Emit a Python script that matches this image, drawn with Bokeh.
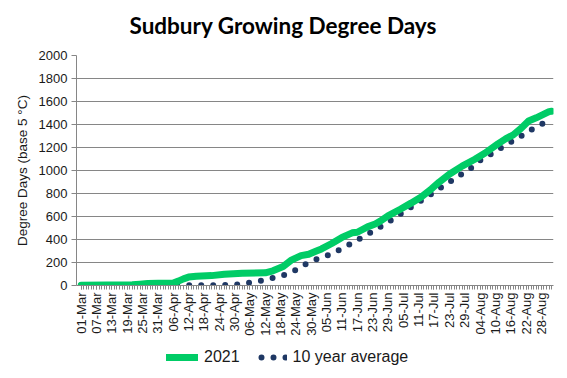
import pandas as pd
from math import pi
from bokeh.plotting import figure
from bokeh.layouts import column
from bokeh.models import Range1d, FixedTicker, Legend, LegendItem, Label
from bokeh.embed import file_html
from bokeh.resources import INLINE

# ---- data ----
dates_2021 = ["2021-03-01", "2021-03-11", "2021-03-21", "2021-03-24", "2021-03-27", "2021-03-31",
              "2021-04-06", "2021-04-08", "2021-04-10", "2021-04-12", "2021-04-15", "2021-04-21",
              "2021-04-26", "2021-05-03", "2021-05-12", "2021-05-15", "2021-05-19", "2021-05-22",
              "2021-05-26", "2021-05-29", "2021-06-01", "2021-06-03", "2021-06-07", "2021-06-11",
              "2021-06-15", "2021-06-17", "2021-06-21", "2021-06-24", "2021-06-26", "2021-06-29",
              "2021-07-04", "2021-07-08", "2021-07-12", "2021-07-16", "2021-07-19", "2021-07-23",
              "2021-07-28", "2021-08-02", "2021-08-06", "2021-08-11", "2021-08-14", "2021-08-17",
              "2021-08-20", "2021-08-23", "2021-08-26", "2021-08-29", "2021-08-31", "2021-09-01"]
gdd_2021 = [3, 4, 6, 12, 17, 19,
            22, 38, 58, 73, 80, 86,
            97, 107, 110, 128, 165, 218,
            260, 272, 300, 318, 365, 418,
            458, 463, 510, 535, 560, 605,
            665, 716, 770, 840, 898, 968,
            1038, 1098, 1152, 1232, 1275, 1310,
            1365, 1430, 1458, 1490, 1512, 1515]

dates_avg = ["2021-03-01", "2021-03-31", "2021-04-26", "2021-05-01", "2021-05-06", "2021-05-11",
             "2021-05-15", "2021-05-20", "2021-05-24", "2021-05-28", "2021-06-01", "2021-06-06",
             "2021-06-10", "2021-06-14", "2021-06-18", "2021-06-22", "2021-06-26", "2021-06-30",
             "2021-07-04", "2021-07-08", "2021-07-12", "2021-07-16", "2021-07-20", "2021-07-24",
             "2021-07-28", "2021-08-01", "2021-08-04", "2021-08-08", "2021-08-12", "2021-08-16",
             "2021-08-20", "2021-08-24", "2021-08-28", "2021-09-01"]
gdd_avg = [2, 3, 3, 8, 25, 43,
           65, 96, 136, 188, 228, 267,
           310, 357, 408, 458, 510, 565,
           623, 681, 739, 797, 855, 913,
           971, 1029, 1087, 1139, 1194, 1246,
           1298, 1354, 1403, 1440]

tick_labels = ["01-Mar", "07-Mar", "13-Mar", "19-Mar", "25-Mar", "31-Mar",
               "06-Apr", "12-Apr", "18-Apr", "24-Apr", "30-Apr",
               "06-May", "12-May", "18-May", "24-May", "30-May",
               "05-Jun", "11-Jun", "17-Jun", "23-Jun", "29-Jun",
               "05-Jul", "11-Jul", "17-Jul", "23-Jul", "29-Jul",
               "04-Aug", "10-Aug", "16-Aug", "22-Aug", "28-Aug"]
y_ticks = [0, 200, 400, 600, 800, 1000, 1200, 1400, 1600, 1800, 2000]

season_start = "2021-03-01"
season_end = "2021-09-01"
title_text = "Sudbury Growing Degree Days"

# ---- helpers ----
EPOCH = pd.Timestamp("1970-01-01")
DAY = 86400000.0


def ms(ts):
    return (pd.Timestamp(ts) - EPOCH) / pd.Timedelta(milliseconds=1)


x2021 = [ms(d) for d in dates_2021]
xavg = [ms(d) for d in dates_avg]

tick_ms = [ms(pd.to_datetime(lbl + "-2021", format="%d-%b-%Y")) for lbl in tick_labels]
overrides = {t: lbl for t, lbl in zip(tick_ms, tick_labels)}
minor_ms = [ms(d) for d in pd.date_range(season_start, season_end, freq="D")]

x_start = ms(season_start) - 1.84 * DAY
x_end = ms(season_end) + 0.75 * DAY

FIG_W = 559
GREEN = "#00CC66"
NAVY = "#1F3864"
TXT = "#1a1a1a"

# ---- title strip ----
tf = figure(width=FIG_W, height=45, output_backend="svg", toolbar_location=None,
            x_axis_location=None, y_axis_location=None,
            min_border=0, outline_line_color=None,
            x_range=Range1d(0, 1), y_range=Range1d(0, 1))
tf.grid.visible = False
tf.add_layout(Label(x=53, y=20, x_units="screen", y_units="screen", text=title_text,
                    text_font="Lato", text_font_size="22.5px", text_font_style="bold",
                    text_color="#000000", text_align="left", text_baseline="middle"))

# ---- main chart ----
p = figure(frame_width=477, frame_height=230, output_backend="svg", toolbar_location=None,
           x_range=Range1d(x_start, x_end), y_range=Range1d(0, 2000),
           min_border_left=76, min_border_right=6, min_border_top=10, min_border_bottom=60)

p.outline_line_color = None
p.background_fill_color = "white"
p.border_fill_color = "white"

r_avg = p.line(xavg, gdd_avg, line_color=NAVY, line_width=6,
               line_dash="0 12", line_cap="round")
r_2021 = p.line(x2021, gdd_2021, line_color=GREEN, line_width=7,
                line_cap="round", line_join="round")

xa = p.xaxis[0]
xa.ticker = FixedTicker(ticks=tick_ms, minor_ticks=minor_ms)
xa.major_label_overrides = overrides
xa.major_label_orientation = pi / 2
xa.major_label_text_font = "Liberation Sans"
xa.major_label_text_font_size = "13px"
xa.major_label_text_color = TXT
xa.major_label_standoff = 3
xa.axis_label_standoff = 0
xa.axis_line_color = "#868686"
xa.major_tick_line_color = "#868686"
xa.minor_tick_line_color = "#868686"
xa.major_tick_in = 0
xa.major_tick_out = 4
xa.minor_tick_in = 0
xa.minor_tick_out = 4

ya = p.yaxis[0]
ya.ticker = FixedTicker(ticks=y_ticks)
ya.axis_label = "Degree Days (base 5 °C)"
ya.axis_label_text_font = "Liberation Sans"
ya.axis_label_text_font_size = "13.5px"
ya.axis_label_text_font_style = "normal"
ya.axis_label_text_color = TXT
ya.axis_label_standoff = 6
ya.major_label_text_font = "Liberation Sans"
ya.major_label_text_font_size = "13px"
ya.major_label_text_color = TXT
ya.major_label_standoff = 4
ya.axis_line_color = "#868686"
ya.major_tick_line_color = "#868686"
ya.major_tick_in = 0
ya.major_tick_out = 5
ya.minor_tick_line_color = None

p.xgrid.grid_line_color = None
p.ygrid.grid_line_color = "#868686"
p.ygrid.grid_line_width = 1

# ---- legend strip (same series, styled identically, drawn off-view) ----
lf = figure(width=FIG_W, height=25, output_backend="svg", toolbar_location=None,
            x_axis_location=None, y_axis_location=None,
            min_border=0, outline_line_color=None,
            x_range=Range1d(0, 1), y_range=Range1d(0, 1))
lf.grid.visible = False
l_2021 = lf.line(x2021, gdd_2021, line_color=GREEN, line_width=7,
                 line_cap="round", line_join="round")
l_avg = lf.line(xavg, gdd_avg, line_color=NAVY, line_width=6,
                line_dash="0 12", line_dash_offset=6, line_cap="round")
legend = Legend(items=[LegendItem(label="2021", renderers=[l_2021]),
                       LegendItem(label="10 year average", renderers=[l_avg])],
                orientation="horizontal", location=(90, 3),
                border_line_color=None, background_fill_alpha=0,
                label_text_font="Liberation Sans", label_text_font_size="16px",
                label_text_color=TXT,
                glyph_width=32, label_standoff=6, spacing=15, padding=0, margin=0)
lf.add_layout(legend)

layout = column(tf, p, lf, spacing=0)
open("out.html", "w").write(file_html(layout, INLINE))
